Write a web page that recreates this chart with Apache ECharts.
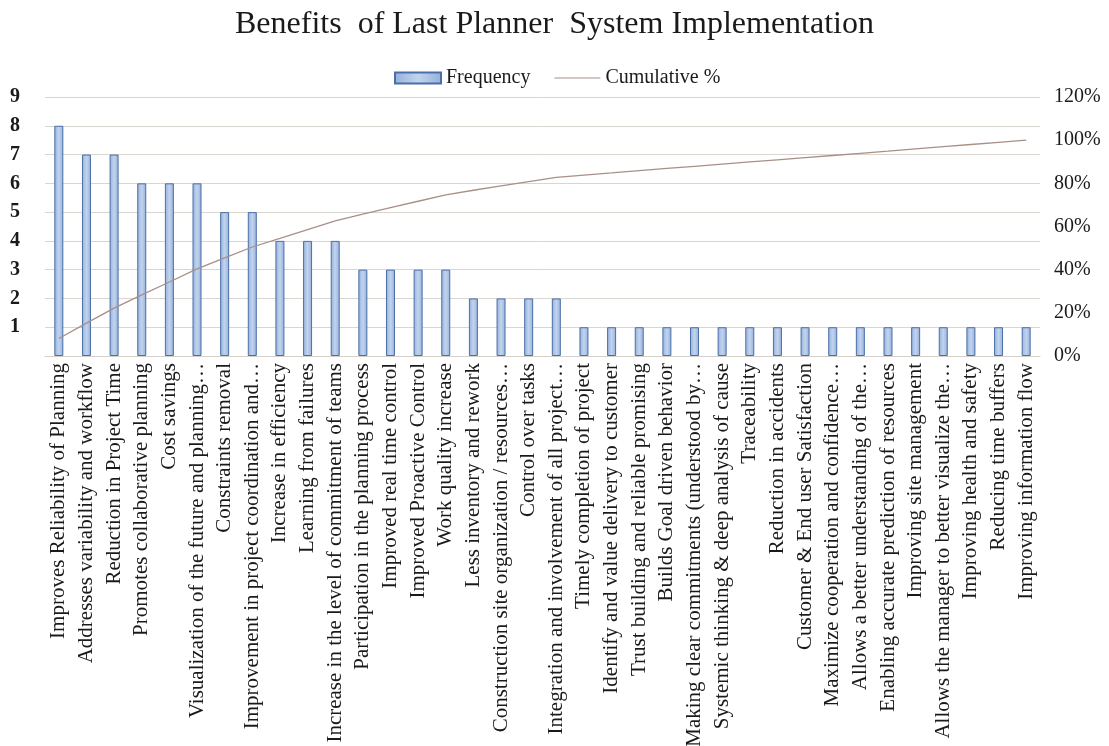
<!DOCTYPE html>
<html>
<head>
<meta charset="utf-8">
<script src="https://cdn.jsdelivr.net/npm/echarts@6/dist/echarts.min.js"></script>
<style>
  html, body { margin: 0; padding: 0; background: #fff; }
  #chart { width: 1109px; height: 746px; }
</style>
</head>
<body>
<div id="chart"></div>
<script>
// Benefits reported for the Last Planner System, sorted by frequency (Pareto)
const categories = [
  'Improves Reliability of Planning',
  'Addresses variability and workflow',
  'Reduction in Project Time',
  'Promotes collaborative planning',
  'Cost savings',
  'Visualization of the future and planning…',
  'Constraints removal',
  'Improvement in project coordination and…',
  'Increase in efficiency',
  'Learning from failures',
  'Increase in the level of commitment of teams',
  'Participation in the planning process',
  'Improved real time control',
  'Improved Proactive Control',
  'Work quality increase',
  'Less inventory and rework',
  'Construction site organization / resources…',
  'Control over tasks',
  'Integration and involvement of all project…',
  'Timely completion of project',
  'Identify and value delivery to customer',
  'Trust building and reliable promising',
  'Builds Goal driven behavior',
  'Making clear commitments (understood by…',
  'Systemic thinking & deep analysis of cause',
  'Traceability',
  'Reduction in accidents',
  'Customer & End user Satisfaction',
  'Maximize cooperation and confidence…',
  'Allows a better understanding of the…',
  'Enabling accurate prediction of resources',
  'Improving site management',
  'Allows the manager to better visualize the…',
  'Improving health and safety',
  'Reducing time buffers',
  'Improving information flow'
];

const frequency = [8, 7, 7, 6, 6, 6, 5, 5, 4, 4, 4, 3, 3, 3, 3, 2, 2, 2, 2,
  1, 1, 1, 1, 1, 1, 1, 1, 1, 1, 1, 1, 1, 1, 1, 1, 1];

// Cumulative share (fraction of all mentions)
const cumulative = [0.081, 0.152, 0.222, 0.283, 0.343, 0.404, 0.455, 0.505,
  0.545, 0.586, 0.626, 0.657, 0.687, 0.717, 0.747, 0.768, 0.788, 0.808, 0.828,
  0.838, 0.848, 0.859, 0.869, 0.879, 0.889, 0.899, 0.909, 0.919, 0.929, 0.939,
  0.949, 0.960, 0.970, 0.980, 0.990, 1.000];

const freqTicks = { min: 0, max: 9, interval: 1 };
const pctTicks = { min: 0, max: 1.2, interval: 0.2 };

const serif = '"Liberation Serif", "DejaVu Serif", serif';

const chart = echarts.init(document.getElementById('chart'), null, { renderer: 'canvas' });

chart.setOption({
  animation: false,
  backgroundColor: '#ffffff',
  title: {
    text: 'Benefits  of Last Planner  System Implementation',
    left: 'center',
    top: 4,
    textStyle: { fontFamily: serif, fontSize: 32, fontWeight: 'normal', color: '#1a1a1a' }
  },
  legend: {
    top: 63,
    left: 389,
    itemGap: 24,
    itemWidth: 46,
    itemHeight: 11,
    textStyle: { fontFamily: serif, fontSize: 20, color: '#1a1a1a' },
    data: [
      { name: 'Frequency', icon: 'rect' },
      { name: 'Cumulative %', icon: 'path://M0,5L48,5L48,6L0,6Z' }
    ]
  },
  grid: {
    left: 45, right: 69, top: 97, bottom: 390,
    containLabel: false,
    outerBoundsMode: 'none'
  },
  xAxis: {
    type: 'category',
    data: categories,
    axisLine: { lineStyle: { color: '#d4d0ca' } },
    axisTick: { show: false },
    axisLabel: {
      interval: 0,
      rotate: 90,
      margin: 7,
      fontFamily: serif,
      fontSize: 21,
      color: '#1a1a1a'
    }
  },
  yAxis: [
    {
      type: 'value',
      min: freqTicks.min,
      max: freqTicks.max,
      interval: freqTicks.interval,
      axisLine: { show: false },
      axisTick: { show: false },
      splitLine: { lineStyle: { color: '#d9d5cf', width: 1 } },
      axisLabel: {
        align: 'left',
        margin: 35,
        fontFamily: serif,
        fontSize: 20,
        fontWeight: 'bold',
        color: '#1a1a1a',
        formatter: v => (v === 0 ? '' : String(v))
      }
    },
    {
      type: 'value',
      min: pctTicks.min,
      max: pctTicks.max,
      interval: pctTicks.interval,
      position: 'right',
      axisLine: { show: false },
      axisTick: { show: false },
      splitLine: { show: false },
      axisLabel: {
        align: 'left',
        margin: 14,
        fontFamily: serif,
        fontSize: 20,
        color: '#1a1a1a',
        formatter: v => Math.round(v * 100) + '%'
      }
    }
  ],
  series: [
    {
      name: 'Frequency',
      type: 'bar',
      yAxisIndex: 0,
      data: frequency,
      barWidth: 9,
      itemStyle: {
        color: new echarts.graphic.LinearGradient(0, 0, 1, 0, [
          { offset: 0, color: '#94b0da' },
          { offset: 0.5, color: '#c2d4ee' },
          { offset: 1, color: '#94b0da' }
        ]),
        borderColor: '#4a6fa8',
        borderWidth: 1
      }
    },
    {
      name: 'Cumulative %',
      type: 'line',
      yAxisIndex: 1,
      data: cumulative,
      symbol: 'none',
      lineStyle: { color: '#a89088', width: 1.3 },
      itemStyle: { color: '#a89088' }
    }
  ]
});
</script>
</body>
</html>
